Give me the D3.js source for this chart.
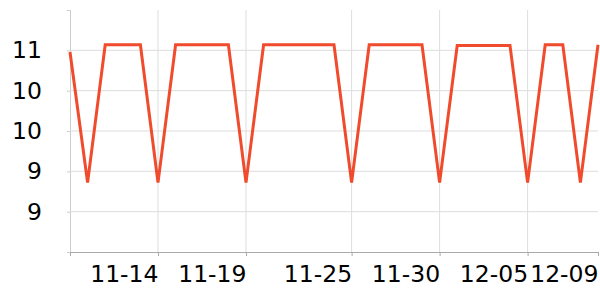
<!DOCTYPE html>
<html>
<head>
<meta charset="utf-8">
<script src="https://cdn.jsdelivr.net/npm/d3@7"></script>
<style>
  body { margin: 0; background: #fff; }
  text { font-family: "DejaVu Sans", sans-serif; fill: #000; }
</style>
</head>
<body>
<div id="chart"></div>
<script>
// Data (one value per day)
const startDate = "2023-11-09";
const values = [
    10.98, 9.36, 11.07, 11.07, 11.07, 9.36, 11.07, 11.07, 11.07, 11.07,
    9.36, 11.07, 11.07, 11.07, 11.07, 11.07, 9.36, 11.07, 11.07, 11.07,
    11.07, 9.36, 11.06, 11.06, 11.06, 11.06, 9.36, 11.07, 11.07, 9.36,
    11.07
];
const xTickDates = ["2023-11-14", "2023-11-19", "2023-11-25", "2023-11-30", "2023-12-05", "2023-12-09"];
const xTickLabels = ["11-14", "11-19", "11-25", "11-30", "12-05", "12-09"];
const yTickValues = [11, 10.5, 10, 9.5, 9];
const yTickLabels = ["11", "10", "10", "9", "9"];
const yDomain = [8.5, 11.5];

const chart = {width: 600, height: 300, margin: {top: 10, right: 2, bottom: 48, left: 70}};
chart.innerWidth = chart.width - chart.margin.left - chart.margin.right;
chart.innerHeight = chart.height - chart.margin.top - chart.margin.bottom;

const parse = d3.utcParse("%Y-%m-%d");
const t0 = parse(startDate);
const data = values.map((v, i) => ({date: d3.utcDay.offset(t0, i), value: v}));

const svg = d3.select("#chart")
    .append("svg")
    .attr("width", chart.width)
    .attr("height", chart.height)
    .append("g")
    .attr("transform", `translate(${chart.margin.left}, ${chart.margin.top})`);

const x = d3.scaleUtc()
    .domain(d3.extent(data, d => d.date))
    .range([0, chart.innerWidth]);

const y = d3.scaleLinear()
    .domain(yDomain)
    .range([chart.innerHeight, 0]);

const xTicks = xTickDates.map(parse);

// Left axis with small ticks
svg.append("g")
    .attr("class", "y-axis")
    .call(d3.axisLeft(y)
        .tickValues(yTickValues)
        .tickSize(3)
        .tickPadding(25)
        .tickFormat((d, i) => yTickLabels[i]))
    .call(g => g.select(".domain").attr("stroke", "#ccc"))
    .call(g => g.selectAll(".tick line").attr("stroke", "#ccc"))
    .call(g => g.selectAll(".tick text").attr("font-size", 23.5).attr("font-family", "DejaVu Sans"));

// Horizontal gridlines
svg.append("g")
    .selectAll("line")
    .data(yTickValues)
    .join("line")
    .attr("x1", 0)
    .attr("x2", chart.innerWidth)
    .attr("y1", d => y(d))
    .attr("y2", d => y(d))
    .attr("stroke", "#ddd");

// Vertical gridlines
svg.append("g")
    .selectAll("line")
    .data(xTicks.slice(0, -1))
    .join("line")
    .attr("x1", d => x(d))
    .attr("x2", d => x(d))
    .attr("y1", 0)
    .attr("y2", chart.innerHeight)
    .attr("stroke", "#ddd");

// Bottom axis, labels right-aligned on their tick
svg.append("g")
    .attr("transform", `translate(0, ${chart.innerHeight})`)
    .call(d3.axisBottom(x)
        .tickValues([x.domain()[0], ...xTicks])
        .tickSize(4)
        .tickSizeOuter(0)
        .tickFormat((d, i) => i === 0 ? "" : xTickLabels[i - 1]))
    .call(g => g.select(".domain").attr("stroke", "#aaa"))
    .call(g => g.selectAll(".tick line").attr("stroke", "#aaa"))
    .call(g => g.selectAll(".tick text")
        .attr("font-size", 23.5)
        .attr("font-family", "DejaVu Sans")
        .attr("text-anchor", "end")
        .attr("dy", null)
        .attr("y", 30));

// The series line
const line = d3.line()
    .x(d => x(d.date))
    .y(d => y(d.value));

svg.append("path")
    .datum(data)
    .attr("fill", "none")
    .attr("stroke", "#f04b2d")
    .attr("stroke-width", 3)
    .attr("stroke-linejoin", "miter")
    .attr("d", line);
</script>
</body>
</html>
